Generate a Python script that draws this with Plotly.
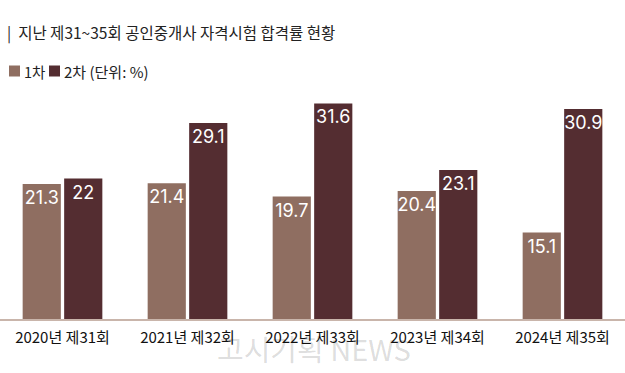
import plotly.graph_objects as go

categories = ["2020년 제31회", "2021년 제32회", "2022년 제33회", "2023년 제34회", "2024년 제35회"]
first_round = [21.3, 21.4, 19.7, 20.4, 15.1]
second_round = [22, 29.1, 31.6, 23.1, 30.9]
series_names = ["1차", "2차"]

c1 = "#8f6e61"
c2 = "#542d31"
font_family = "Noto Sans CJK KR, Noto Sans, sans-serif"

fig = go.Figure()
for name, vals, col in [(series_names[0], first_round, c1), (series_names[1], second_round, c2)]:
    fig.add_trace(go.Bar(
        x=categories, y=vals, name=name, marker=dict(color=col, line=dict(width=0)),
        text=[f"{v:g}" for v in vals], textposition="inside", insidetextanchor="end",
        textfont=dict(color="white", size=18, family="Inter, Noto Sans, sans-serif"),
        textangle=0, cliponaxis=False,
    ))

fig.update_layout(
    width=625, height=373,
    margin=dict(l=0, r=0, t=77, b=54),
    paper_bgcolor="white", plot_bgcolor="white",
    barmode="group", bargap=0.336, bargroupgap=0.08,
    showlegend=False,
    uniformtext=dict(minsize=18, mode="show"),
    xaxis=dict(showgrid=False, showline=True, linecolor="#c9b5ab", linewidth=2,
               ticks="", ticklabelstandoff=4,
               tickfont=dict(size=15, color="#111111", family=font_family),
               fixedrange=True),
    yaxis=dict(range=[4.07, 34.97], visible=False, showgrid=False, zeroline=False),
    font=dict(family=font_family),
)

def py(ypx):
    return (373 - 54 - ypx) / (373 - 77 - 54)

# Title
fig.add_annotation(xref="paper", yref="paper", x=5/625, y=py(33),
                   xanchor="left", yanchor="middle", showarrow=False,
                   text="|  지난 제31~35회 공인중개사 자격시험 합격률 현황",
                   font=dict(size=15.5, color="#222222", family=font_family))

# Legend
legend_y = 71
for x0, col in [(9, c1), (49, c2)]:
    fig.add_shape(type="rect", xref="paper", yref="paper",
                  x0=x0/625, x1=(x0+11)/625, y0=py(legend_y+5.5), y1=py(legend_y-5.5),
                  line=dict(width=0), fillcolor=col)
fig.add_annotation(xref="paper", yref="paper", x=22/625, y=py(legend_y), xanchor="left",
                   yanchor="middle", showarrow=False, text=series_names[0],
                   font=dict(size=14.5, color="#222222", family=font_family))
fig.add_annotation(xref="paper", yref="paper", x=62/625, y=py(legend_y), xanchor="left",
                   yanchor="middle", showarrow=False, text=series_names[1] + " (단위: %)",
                   font=dict(size=15, color="#222222", family=font_family))

# Watermark
fig.add_annotation(xref="paper", yref="paper", x=0.5, xshift=1, y=py(348), xanchor="center",
                   yanchor="middle", showarrow=False, text="고시기획 NEWS",
                   font=dict(size=29, color="rgba(0,0,0,0.15)", family=font_family))

fig.write_html("out.html", config={"displayModeBar": False},
               post_script="document.body.style.margin='0';document.body.style.overflow='hidden';")
